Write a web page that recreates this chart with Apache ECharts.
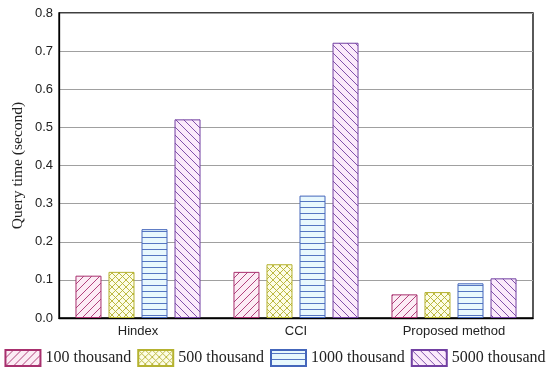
<!DOCTYPE html>
<html>
<head>
<meta charset="utf-8">
<script src="https://cdn.jsdelivr.net/npm/echarts@6/dist/echarts.min.js"></script>
<style>html,body{margin:0;padding:0;background:#fff}#c{width:550px;height:373px}</style>
</head>
<body>
<div id="c"></div>
<script>
const categories = ['Hindex', 'CCI', 'Proposed method'];
const seriesNames = ['100 thousand', '500 thousand', '1000 thousand', '5000 thousand'];
const v100 = [0.111, 0.121, 0.062];
const v500 = [0.121, 0.141, 0.068];
const v1000 = [0.233, 0.321, 0.091];
const v5000 = [0.521, 0.722, 0.104];
const yTicks = [0, 0.1, 0.2, 0.3, 0.4, 0.5, 0.6, 0.7, 0.8];

function makePattern(kind, stroke, fill) {
  const c = document.createElement('canvas');
  let w = 8, h = 8;
  if (kind === 'cross') { w = 7; h = 7; }
  if (kind === 'h') { w = 6; h = 6; }
  c.width = w; c.height = h;
  const g = c.getContext('2d');
  g.fillStyle = fill; g.fillRect(0, 0, w, h);
  g.strokeStyle = stroke; g.lineWidth = 0.9;
  g.beginPath();
  if (kind === 'fwd' || kind === 'cross') {
    g.moveTo(-1, h + 1); g.lineTo(w + 1, -1);
    g.moveTo(-1, 1); g.lineTo(1, -1);
    g.moveTo(w - 1, h + 1); g.lineTo(w + 1, h - 1);
  }
  if (kind === 'back' || kind === 'cross') {
    g.moveTo(-1, -1); g.lineTo(w + 1, h + 1);
    g.moveTo(w - 1, -1); g.lineTo(w + 1, 1);
    g.moveTo(-1, h - 1); g.lineTo(1, h + 1);
  }
  if (kind === 'h') {
    g.moveTo(0, 3.5); g.lineTo(w, 3.5);
  }
  g.stroke();
  return { image: c, repeat: 'repeat' };
}

const styles = [
  { kind: 'fwd', stroke: '#a8306e', fill: '#fcecf5' },
  { kind: 'cross', stroke: '#b5b230', fill: '#fdfde6' },
  { kind: 'h', stroke: '#4466bb', fill: '#e8f8fd' },
  { kind: 'back', stroke: '#7240a2', fill: '#fbeafb' }
];
const values = [v100, v500, v1000, v5000];

const series = seriesNames.map((n, i) => ({
  name: n,
  type: 'bar',
  data: values[i],
  barWidth: 26,
  barGap: '27%',
  itemStyle: {
    color: makePattern(styles[i].kind, styles[i].stroke, styles[i].fill),
    borderColor: styles[i].stroke,
    borderWidth: 1
  }
}));

const chart = echarts.init(document.getElementById('c'), null, { renderer: 'canvas' });
chart.setOption({
  animation: false,
  grid: { left: 59, right: 17, top: 13, bottom: 55, show: true, borderColor: '#000', borderWidth: 1.3 },
  legend: {
    data: seriesNames,
    left: 'center',
    top: 349,
    width: 550,
    padding: 0,
    itemWidth: 35,
    itemHeight: 16,
    itemGap: 6,
    icon: 'rect',
    textStyle: { fontFamily: 'Liberation Serif', fontSize: 16, color: '#222' }
  },
  xAxis: {
    type: 'category',
    data: categories,
    axisLine: { lineStyle: { color: '#000', width: 1.3 } },
    axisTick: { alignWithLabel: true, inside: true, length: 4, lineStyle: { color: '#000' } },
    axisLabel: { fontFamily: 'Liberation Sans', fontSize: 13, color: '#222', margin: 7 }
  },
  yAxis: {
    type: 'value',
    min: yTicks[0],
    max: yTicks[yTicks.length - 1],
    interval: 0.1,
    name: 'Query time (second)',
    nameLocation: 'middle',
    nameGap: 33,
    nameMoveOverlap: false,
    nameTextStyle: { fontFamily: 'Liberation Serif', fontSize: 15.5, color: '#222' },
    axisLine: { show: true, lineStyle: { color: '#000', width: 1.3 } },
    axisTick: { show: false },
    axisLabel: { fontFamily: 'Liberation Sans', fontSize: 13, color: '#222', margin: 6, formatter: v => v.toFixed(1) },
    splitLine: { lineStyle: { color: '#a0a0a0', width: 1 } }
  },
  series: series
});
</script>
</body>
</html>
